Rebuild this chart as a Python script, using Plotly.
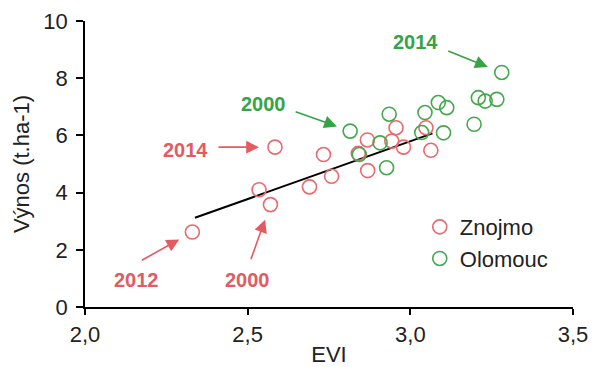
import plotly.graph_objects as go

# Data
znojmo_evi = [2.33, 2.57, 2.535, 2.584, 2.69, 2.733, 2.758, 2.84, 2.868, 2.869, 2.943, 2.956, 2.979, 3.048, 3.063]
znojmo_yield = [2.62, 3.58, 4.10, 5.59, 4.20, 5.33, 4.57, 5.37, 5.84, 4.77, 5.80, 6.27, 5.59, 6.27, 5.48]

olomouc_evi = [2.815, 2.843, 2.907, 2.927, 2.935, 3.035, 3.045, 3.086, 3.102, 3.112, 3.196, 3.209, 3.23, 3.266, 3.281]
olomouc_yield = [6.15, 5.33, 5.74, 4.87, 6.74, 6.10, 6.80, 7.15, 6.09, 6.97, 6.39, 7.32, 7.20, 7.26, 8.20]

trend_evi = [2.338, 3.068]
trend_yield = [3.12, 6.07]

x_ticks = [2.0, 2.5, 3.0, 3.5]
y_ticks = [0, 2, 4, 6, 8, 10]

# labelled years: (series, index in series, label)
labels = [
    ("Z", 3, "2014"),
    ("Z", 0, "2012"),
    ("Z", 1, "2000"),
    ("O", 0, "2000"),
    ("O", 14, "2014"),
]

RED = "#e8696e"
GREEN = "#42a94c"
RED_T = "#e35a61"
GREEN_T = "#35a445"
FONT = "Liberation Sans, Arial, sans-serif"

fig = go.Figure()
fig.add_trace(go.Scatter(x=trend_evi, y=trend_yield, mode="lines",
                         line=dict(color="black", width=2), showlegend=False,
                         hoverinfo="skip"))
fig.add_trace(go.Scatter(x=znojmo_evi, y=znojmo_yield, mode="markers", name="Znojmo",
                         legendgroup="z",
                         marker=dict(symbol="circle-open", size=14, color=RED,
                                     line=dict(width=1.6, color=RED))))
fig.add_trace(go.Scatter(x=olomouc_evi, y=olomouc_yield, mode="markers", name="Olomouc",
                         legendgroup="o",
                         marker=dict(symbol="circle-open", size=14, color=GREEN,
                                     line=dict(width=1.6, color=GREEN))))

# pixel offsets (text center, arrow tail) relative to the point, and arrow standoff
offsets = {
    ("Z", 3): ((-89, 3), (-58, 0), 16),
    ("Z", 0): ((-56, 48), (-52, 29), 15),
    ("Z", 1): ((-23, 75), (-20, 56), 16),
    ("O", 0): ((-87, -27), (-56, -20), 14),
    ("O", 14): ((-86, -30), (-55, -22), 15),
}

annotations = []
for s, i, lab in labels:
    if s == "Z":
        px, py, col = znojmo_evi[i], znojmo_yield[i], RED_T
    else:
        px, py, col = olomouc_evi[i], olomouc_yield[i], GREEN_T
    (tx, ty), (ax, ay), so = offsets[(s, i)]
    annotations.append(dict(x=px, y=py, xref="x", yref="y", text="", showarrow=True,
                            ax=ax, ay=ay, axref="pixel", ayref="pixel",
                            arrowhead=2, arrowsize=1.6, arrowwidth=1.6, arrowcolor=col,
                            standoff=so))
    annotations.append(dict(x=px, y=py, xref="x", yref="y", text="<b>%s</b>" % lab,
                            showarrow=False, xshift=tx, yshift=-ty,
                            font=dict(family=FONT, size=20, color=col)))

fig.update_layout(
    width=592, height=367,
    margin=dict(l=85, r=19, t=21, b=60),
    paper_bgcolor="white", plot_bgcolor="white",
    separators=",.",
    font=dict(family=FONT, size=22, color="#222222"),
    annotations=annotations,
    legend=dict(x=0.686, y=0.353, xanchor="left", yanchor="top",
                font=dict(family=FONT, size=22, color="#222222"),
                tracegroupgap=0, bgcolor="rgba(0,0,0,0)"),
    xaxis=dict(range=[2.0, 3.5], tickvals=x_ticks, tickformat=".1f",
               showline=True, linecolor="black", linewidth=1.5,
               ticks="outside", ticklen=6, tickwidth=1.5, tickcolor="black",
               showgrid=False, zeroline=False, ticklabelstandoff=1, automargin=False,
               title=dict(text="EVI", standoff=1, font=dict(size=22))),
    yaxis=dict(range=[0, 10], tickvals=y_ticks,
               showline=True, linecolor="black", linewidth=1.5,
               ticks="outside", ticklen=7, tickwidth=1.5, tickcolor="black",
               showgrid=False, zeroline=False, ticklabelstandoff=4, automargin=False,
               title=dict(text="Výnos (t.ha-1)", standoff=8, font=dict(size=22))),
)

fig.write_html("out.html")
